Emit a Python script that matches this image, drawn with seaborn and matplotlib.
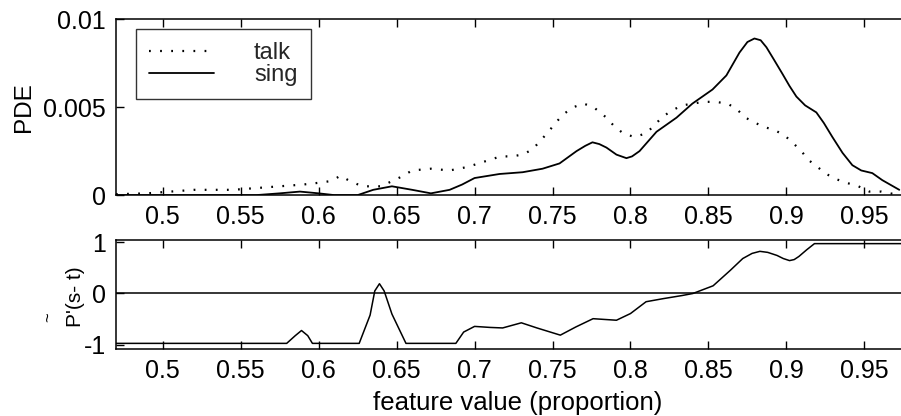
import matplotlib
matplotlib.use("Agg")
import matplotlib.pyplot as plt
import seaborn as sns
import pandas as pd

# Density estimates for the two conditions
talk_x = [0.470, 0.490, 0.505, 0.520, 0.545, 0.560, 0.575, 0.590, 0.600, 0.608,
          0.614, 0.620, 0.628, 0.640, 0.652, 0.660, 0.672, 0.684, 0.6955, 0.7026,
          0.7096, 0.7167, 0.7237, 0.7308, 0.7372, 0.7423, 0.7474, 0.7519, 0.757, 0.7635,
          0.7699, 0.7763, 0.7846, 0.7897, 0.7955, 0.8026, 0.8096, 0.8147, 0.8199, 0.8263,
          0.8333, 0.8468, 0.8545, 0.8622, 0.868, 0.8737, 0.8782, 0.8846, 0.8923, 0.8987,
          0.9038, 0.9096, 0.9141, 0.9199, 0.9256, 0.9321, 0.9385, 0.9462, 0.9532, 0.9609,
          0.9724]
talk_y = [0.00005, 0.0001, 0.0002, 0.0003, 0.0003, 0.0004, 0.0005, 0.0006, 0.0007, 0.0008,
          0.0011, 0.0008, 0.0005, 0.0005, 0.0010, 0.0014, 0.0015, 0.0014, 0.0016, 0.0018,
          0.0020, 0.0022, 0.0022, 0.0023, 0.0026, 0.0031, 0.0036, 0.0041, 0.0046, 0.0050,
          0.0052, 0.0050, 0.0044, 0.0039, 0.0035, 0.0033, 0.0035, 0.0039, 0.0044, 0.0048,
          0.0051, 0.0053, 0.0053, 0.0052, 0.0049, 0.0044, 0.0042, 0.0039, 0.0037, 0.0034,
          0.0030, 0.0025, 0.0020, 0.0016, 0.0012, 0.0009, 0.0007, 0.0005, 0.0002, 0.0002,
          0.0000]

sing_x = [0.470, 0.560, 0.575, 0.588, 0.600, 0.610, 0.625, 0.635, 0.647, 0.660,
          0.672, 0.684, 0.692, 0.700, 0.716, 0.7308, 0.7436, 0.7545, 0.7654, 0.771,
          0.7756, 0.780, 0.7846, 0.791, 0.7974, 0.801, 0.8058, 0.8167, 0.8295, 0.8397,
          0.8526, 0.8615, 0.8699, 0.875, 0.8795, 0.8835, 0.8872, 0.892, 0.8974, 0.902,
          0.9064, 0.912, 0.9192, 0.924, 0.9295, 0.936, 0.9423, 0.948, 0.9551, 0.9615,
          0.9724]
sing_y = [0.0, 0.0, 0.0001, 0.0002, 0.0001, 0.0, 0.0, 0.0003, 0.0005, 0.0003,
          0.0001, 0.0003, 0.0006, 0.00097, 0.0012, 0.0013, 0.0015, 0.0018, 0.0025, 0.0028,
          0.0030, 0.0029, 0.0027, 0.0023, 0.0021, 0.0022, 0.0025, 0.0036, 0.0044, 0.0052,
          0.0060, 0.0068, 0.0081, 0.0087, 0.0089, 0.0088, 0.0084, 0.0077, 0.0069, 0.0062,
          0.0056, 0.0051, 0.0047, 0.0041, 0.0033, 0.0024, 0.0017, 0.0014, 0.00125, 0.00085,
          0.0003]

# Normalised sing-minus-talk difference
diff_x = [0.470, 0.5795, 0.585, 0.589, 0.593, 0.596, 0.626, 0.633, 0.636, 0.639,
          0.642, 0.647, 0.656, 0.688, 0.693, 0.700, 0.710, 0.718, 0.730, 0.740,
          0.755, 0.765, 0.776, 0.791, 0.800, 0.810, 0.821, 0.833, 0.840, 0.853,
          0.864, 0.872, 0.878, 0.883, 0.888, 0.894, 0.898, 0.902, 0.905, 0.908,
          0.913, 0.918, 0.975]
diff_y = [-0.97, -0.97, -0.82, -0.72, -0.82, -0.97, -0.97, -0.42, 0.05, 0.19,
          0.05, -0.40, -0.97, -0.97, -0.75, -0.64, -0.66, -0.67, -0.57, -0.67,
          -0.81, -0.65, -0.49, -0.52, -0.39, -0.16, -0.10, -0.04, 0.00, 0.15,
          0.45, 0.68, 0.78, 0.82, 0.80, 0.74, 0.68, 0.64, 0.66, 0.72,
          0.85, 0.97, 0.97]

x_ticks = [0.5, 0.55, 0.6, 0.65, 0.7, 0.75, 0.8, 0.85, 0.9, 0.95]
x_tick_labels = ["0.5", "0.55", "0.6", "0.65", "0.7", "0.75", "0.8", "0.85", "0.9", "0.95"]
pde_ticks = [0, 0.005, 0.01]
pde_tick_labels = ["0", "0.005", "0.01"]
diff_ticks = [-1, 0, 1]
diff_tick_labels = ["-1", "0", "1"]

sns.set_theme(style="white")
plt.rcParams["font.family"] = ["Liberation Sans", "DejaVu Sans"]

fig = plt.figure(figsize=(9.01, 4.16), dpi=100)
ax1 = fig.add_axes([0.1287, 0.531, 0.8713, 0.423])
ax2 = fig.add_axes([0.1287, 0.161, 0.8713, 0.262])

talk_df = pd.DataFrame({"x": talk_x, "y": talk_y})
sing_df = pd.DataFrame({"x": sing_x, "y": sing_y})
diff_df = pd.DataFrame({"x": diff_x, "y": diff_y})

sns.lineplot(data=talk_df, x="x", y="y", ax=ax1, color="black", lw=1.6,
             linestyle=(0, (0.8, 4.2)), label="talk", estimator=None, sort=False)
sns.lineplot(data=sing_df, x="x", y="y", ax=ax1, color="black", lw=1.3,
             label="sing", estimator=None, sort=False)
sns.lineplot(data=diff_df, x="x", y="y", ax=ax2, color="black", lw=1.1,
             estimator=None, sort=False)
ax2.axhline(0, color="black", lw=1.1)

xlim = (0.47, 0.9735)
ax1.set_xlim(*xlim)
ax1.set_ylim(0, 0.01)
ax2.set_xlim(*xlim)
ax2.set_ylim(-1.08, 1.04)

for ax in (ax1, ax2):
    ax.set_xticks(x_ticks)
    ax.set_xticklabels(x_tick_labels)
    ax.tick_params(axis="both", direction="in", length=6, width=1.0,
                   labelsize=18, pad=7, colors="black", top=True, bottom=True,
                   left=True, right=False)
    for side in ("left", "top", "bottom"):
        ax.spines[side].set_color("black")
        ax.spines[side].set_linewidth(1.1)
    ax.spines["right"].set_visible(False)
    ax.set_xlabel("")
    ax.set_ylabel("")

ax1.set_yticks(pde_ticks)
ax1.set_yticklabels(pde_tick_labels)
ax2.set_yticks(diff_ticks)
ax2.set_yticklabels(diff_tick_labels)

ax1.set_ylabel("PDE", fontsize=17.5, color="black")
ax1.yaxis.set_label_coords(-0.103, 0.5)
ax2.set_ylabel("P'(s- t)", fontsize=15, color="black")
ax2.yaxis.set_label_coords(-0.039, 0.48)
ax2.set_xlabel("feature value (proportion)", fontsize=18.5, color="black")
ax2.xaxis.label.set_va("baseline")
ax2.xaxis.set_label_coords(0.512, -0.56)
fig.text(50 / 901, 1 - 317 / 416, "~", rotation=90, fontsize=12,
         ha="center", va="center", color="black")

leg = ax1.legend(loc="upper left", bbox_to_anchor=(0.0255, 0.943), fontsize=17,
                 handlelength=2.75, handletextpad=1.7, borderpad=0.55,
                 labelspacing=0.0, frameon=True, fancybox=False, borderaxespad=0)
leg.get_frame().set_edgecolor("black")
leg.get_frame().set_linewidth(1.0)

fig.savefig("out.png", dpi=100)
